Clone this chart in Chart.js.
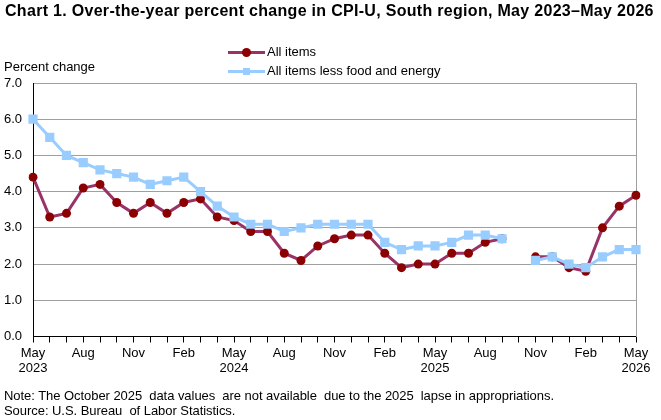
<!DOCTYPE html>
<html>
<head>
<meta charset="utf-8">
<script src="https://cdn.jsdelivr.net/npm/chart.js@4/dist/chart.umd.min.js"></script>
<style>
  html, body { margin: 0; padding: 0; background: #fff; }
  body { width: 661px; height: 420px; position: relative; overflow: hidden; font-family: "Liberation Sans", Arial, sans-serif; color: #000; }
  #title { position: absolute; left: 5px; top: 2px; font-size: 16px; font-weight: bold; letter-spacing: 0.3px; white-space: nowrap; }
  #ylabel { position: absolute; left: 4px; top: 59px; font-size: 13px; white-space: nowrap; }
  .leg { position: absolute; left: 228px; font-size: 13px; white-space: nowrap; height: 15px; line-height: 15px; }
  .leg .ln { position: absolute; left: 0; top: 7px; width: 37px; height: 3px; }
  .leg .mk { position: absolute; }
  .leg .tx { position: absolute; left: 39px; top: 0; }
  #note { position: absolute; left: 4px; top: 389px; font-size: 13px; line-height: 14.5px; white-space: pre; letter-spacing: -0.05px; }
  canvas { position: absolute; left: 0; top: 0; }
</style>
</head>
<body>
<canvas id="c" width="661" height="420"></canvas>
<div id="title">Chart 1. Over-the-year percent change in CPI-U, South region, May 2023–May 2026</div>
<div id="ylabel">Percent change</div>
<div class="leg" style="top:44px">
  <div class="ln" style="background:#993366"></div>
  <div class="mk" style="left:14px;top:4px;width:9px;height:9px;border-radius:50%;background:#8B0000"></div>
  <div class="tx">All items</div>
</div>
<div class="leg" style="top:63px">
  <div class="ln" style="background:#99CCFF"></div>
  <div class="mk" style="left:15px;top:5px;width:7px;height:7px;background:#99CCFF"></div>
  <div class="tx">All items less food and energy</div>
</div>
<div id="note">Note: The October 2025  data values  are not available  due to the 2025  lapse in appropriations.
Source: U.S. Bureau  of Labor Statistics.</div>
<script>
const categories = [
  "May 2023","Jun 2023","Jul 2023","Aug 2023","Sep 2023","Oct 2023","Nov 2023","Dec 2023",
  "Jan 2024","Feb 2024","Mar 2024","Apr 2024","May 2024","Jun 2024","Jul 2024","Aug 2024","Sep 2024","Oct 2024","Nov 2024","Dec 2024",
  "Jan 2025","Feb 2025","Mar 2025","Apr 2025","May 2025","Jun 2025","Jul 2025","Aug 2025","Sep 2025","Oct 2025","Nov 2025","Dec 2025",
  "Jan 2026","Feb 2026","Mar 2026","Apr 2026","May 2026"
];
const allItems = [
  4.4,3.3,3.4,4.1,4.2,3.7,3.4,3.7,
  3.4,3.7,3.8,3.3,3.2,2.9,2.9,2.3,2.1,2.5,2.7,2.8,
  2.8,2.3,1.9,2.0,2.0,2.3,2.3,2.6,2.7,null,2.2,2.2,
  1.9,1.8,3.0,3.6,3.9
];
const lessFoodEnergy = [
  6.0,5.5,5.0,4.8,4.6,4.5,4.4,4.2,
  4.3,4.4,4.0,3.6,3.3,3.1,3.1,2.9,3.0,3.1,3.1,3.1,
  3.1,2.6,2.4,2.5,2.5,2.6,2.8,2.8,2.7,null,2.1,2.2,
  2.0,1.9,2.2,2.4,2.4
];
const xTickLabels = {
  "May 2023": ["May","2023"], "Aug 2023": ["Aug"], "Nov 2023": ["Nov"],
  "Feb 2024": ["Feb"], "May 2024": ["May","2024"], "Aug 2024": ["Aug"], "Nov 2024": ["Nov"],
  "Feb 2025": ["Feb"], "May 2025": ["May","2025"], "Aug 2025": ["Aug"], "Nov 2025": ["Nov"],
  "Feb 2026": ["Feb"], "May 2026": ["May","2026"]
};
const yTicks = [0,1,2,3,4,5,6,7];

const font = { family: "'Liberation Sans', Arial, sans-serif", size: 13, lineHeight: 1.15 };

new Chart(document.getElementById('c'), {
  type: 'line',
  data: {
    labels: categories,
    datasets: [
      {
        label: 'All items', data: allItems, order: 1,
        borderColor: '#993366', borderWidth: 3, backgroundColor: '#8B0000',
        pointStyle: 'circle', pointRadius: 4.5, pointBorderWidth: 0,
        pointBackgroundColor: '#8B0000', spanGaps: false, tension: 0
      },
      {
        label: 'All items less food and energy', data: lessFoodEnergy, order: 0,
        borderColor: '#99CCFF', borderWidth: 3, backgroundColor: '#99CCFF',
        pointStyle: 'rect', pointRadius: 6.5, pointBorderWidth: 0,
        pointBackgroundColor: '#99CCFF', spanGaps: false, tension: 0
      }
    ]
  },
  options: {
    responsive: false, animation: false, devicePixelRatio: 1,
    layout: { padding: { top: 83, right: 25, bottom: 0, left: 0 } },
    plugins: { legend: { display: false }, title: { display: false }, tooltip: { enabled: false } },
    scales: {
      x: {
        type: 'category', offset: false,
        afterFit: s => { s.height = 83.5; },
        grid: { display: true, drawOnChartArea: false, drawTicks: true, tickLength: 6, color: '#000', lineWidth: 1 },
        border: { display: true, color: '#000', width: 1 },
        ticks: {
          autoSkip: false, maxRotation: 0, minRotation: 0, padding: 3, color: '#000', font: font,
          callback: function(v, i) { const k = categories[i]; return xTickLabels[k] || ''; }
        }
      },
      y: {
        min: 0, max: 7,
        afterFit: s => { s.width = 33; },
        afterBuildTicks: s => { s.ticks = yTicks.map(v => ({ value: v })); },
        grid: { drawTicks: false, color: ctx => (ctx.tick && ctx.tick.value === 0) ? 'rgba(0,0,0,0)' : '#A0A0A0', lineWidth: 1 },
        border: { display: true, color: '#000', width: 1 },
        ticks: { padding: 11, color: '#000', font: font, callback: v => Number(v).toFixed(1) }
      },
      y2: {
        position: 'right', min: 0, max: 7,
        afterFit: s => { s.width = 0; },
        grid: { drawOnChartArea: false, drawTicks: false },
        border: { display: true, color: '#A0A0A0', width: 1 },
        ticks: { display: false }
      }
    }
  }
});
</script>
</body>
</html>
